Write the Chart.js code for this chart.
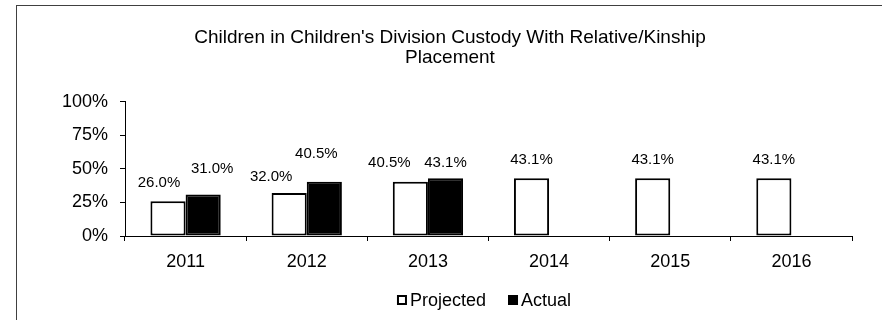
<!DOCTYPE html>
<html>
<head>
<meta charset="utf-8">
<script src="https://cdn.jsdelivr.net/npm/chart.js@4.4.0/dist/chart.umd.min.js"></script>
<style>
  html, body { margin: 0; padding: 0; background: #fff; overflow: hidden; }
  #wrap { width: 882px; height: 320px; }
</style>
</head>
<body>
<div id="wrap"><canvas id="chart" width="882" height="320"></canvas></div>
<script>
const years = ["2011", "2012", "2013", "2014", "2015", "2016"];
const projected = [26.0, 32.0, 40.5, 43.1, 43.1, 43.1];
const actual = [31.0, 40.5, 43.1, null, null, null];
const yTicks = [0, 25, 50, 75, 100];
const seriesNames = ["Projected", "Actual"];
const titleLines = ["Children in Children's Division Custody With Relative/Kinship", "Placement"];

// label nudges [dx, dy] from the top centre of each bar (Excel moved some of them)
const labelNudge = [
  [[-9, -18], [-18, -16], [-21, -19], [0, -18], [0, -18], [0, -18]],
  [[9, -26], [-8, -28], [0, -15]]
];

const FONT = "'Liberation Sans', Arial, sans-serif";

//Thin frame round the whole chart
const framePlugin = {
  id: "frame",
  beforeDraw(chart) {
    const ctx = chart.ctx;
    ctx.save();
    ctx.fillStyle = "#fff";
    ctx.fillRect(0, 0, chart.width, chart.height);
    ctx.strokeStyle = "#404040";
    ctx.lineWidth = 1;
    ctx.strokeRect(16.5, 5.5, 1000, 1000);
    ctx.restore();
  }
};

//Value labels above the bars
const valueLabels = {
  id: "valueLabels",
  afterDatasetsDraw(chart) {
    const ctx = chart.ctx;
    ctx.save();
    ctx.font = "15px " + FONT;
    ctx.fillStyle = "#000";
    ctx.textAlign = "center";
    ctx.textBaseline = "middle";
    chart.data.datasets.forEach((ds, di) => {
      const meta = chart.getDatasetMeta(di);
      meta.data.forEach((bar, i) => {
        const v = ds.data[i];
        if (v === null || v === undefined) return;
        const n = (labelNudge[di] && labelNudge[di][i]) || [0, -18];
        ctx.fillText(v.toFixed(1) + "%", bar.x + n[0], bar.y + n[1]);
      });
    });
    ctx.restore();
  }
};

//Legend drawn like the Excel one (small square right next to the text)
const legendBoxes = {
  id: "legendBoxes",
  afterDraw(chart) {
    const ctx = chart.ctx;
    ctx.save();
    ctx.font = "18px " + FONT;
    ctx.textBaseline = "middle";
    const box = 10, gapText = 3, gapItem = 22;
    const items = chart.data.datasets.map(ds => ({ ds, w: box + gapText + ctx.measureText(ds.label).width }));
    const total = items.reduce((s, it) => s + it.w, 0) + gapItem * (items.length - 1);
    let x = 484 - total / 2;
    const y = 300;
    items.forEach(it => {
      ctx.fillStyle = it.ds.backgroundColor;
      ctx.fillRect(x, y - box / 2, box, box);
      ctx.strokeStyle = "#000";
      ctx.lineWidth = 2;
      ctx.strokeRect(x + 1, y - box / 2 + 1, box - 2, box - 2);
      ctx.fillStyle = "#000";
      ctx.textAlign = "left";
      ctx.fillText(it.ds.label, x + box + gapText, y + 1);
      x += it.w + gapItem;
    });
    ctx.restore();
  }
};

const chart = new Chart(document.getElementById("chart"), {
  type: "bar",
  plugins: [framePlugin, valueLabels, legendBoxes],
  data: {
    labels: years,
    datasets: [
      {
        label: seriesNames[0],
        data: projected,
        backgroundColor: "#ffffff",
        borderColor: "#000000",
        borderWidth: 2,
        borderSkipped: false,
        categoryPercentage: 0.58,
        barPercentage: 1.0
      },
      {
        label: seriesNames[1],
        data: actual,
        backgroundColor: "#000000",
        borderColor: "#000000",
        borderWidth: 2,
        borderSkipped: false,
        categoryPercentage: 0.58,
        barPercentage: 1.0
      }
    ]
  },
  options: {
    responsive: false,
    animation: false,
    devicePixelRatio: 1,
    layout: { padding: { top: 0, left: 48, right: 30, bottom: 40 } },
    plugins: {
      legend: { display: false },
      tooltip: { enabled: false },
      title: {
        display: true,
        text: titleLines,
        color: "#000",
        font: { family: FONT, size: 19, weight: "normal", lineHeight: 1.05 },
        padding: { top: 28, bottom: 34 }
      }
    },
    scales: {
      x: {
        offset: true,
        grid: { display: true, offset: true, drawOnChartArea: false, drawTicks: true, tickLength: 5, color: "#000", lineWidth: 1 },
        border: { display: true, color: "#000", width: 1 },
        ticks: { color: "#000", font: { family: FONT, size: 18 }, padding: 10, maxRotation: 0 },
        afterFit(scale) { scale.height = 44; }
      },
      y: {
        min: 0,
        max: 100,
        afterBuildTicks(scale) { scale.ticks = yTicks.map(v => ({ value: v })); },
        grid: { display: true, drawOnChartArea: false, drawTicks: true, tickLength: 5, color: "#000", lineWidth: 1 },
        border: { display: true, color: "#000", width: 1 },
        ticks: { color: "#000", font: { family: FONT, size: 18 }, padding: 12, callback: v => v + "%" },
        afterFit(scale) { scale.width = 77; }
      }
    }
  }
});
</script>
</body>
</html>
